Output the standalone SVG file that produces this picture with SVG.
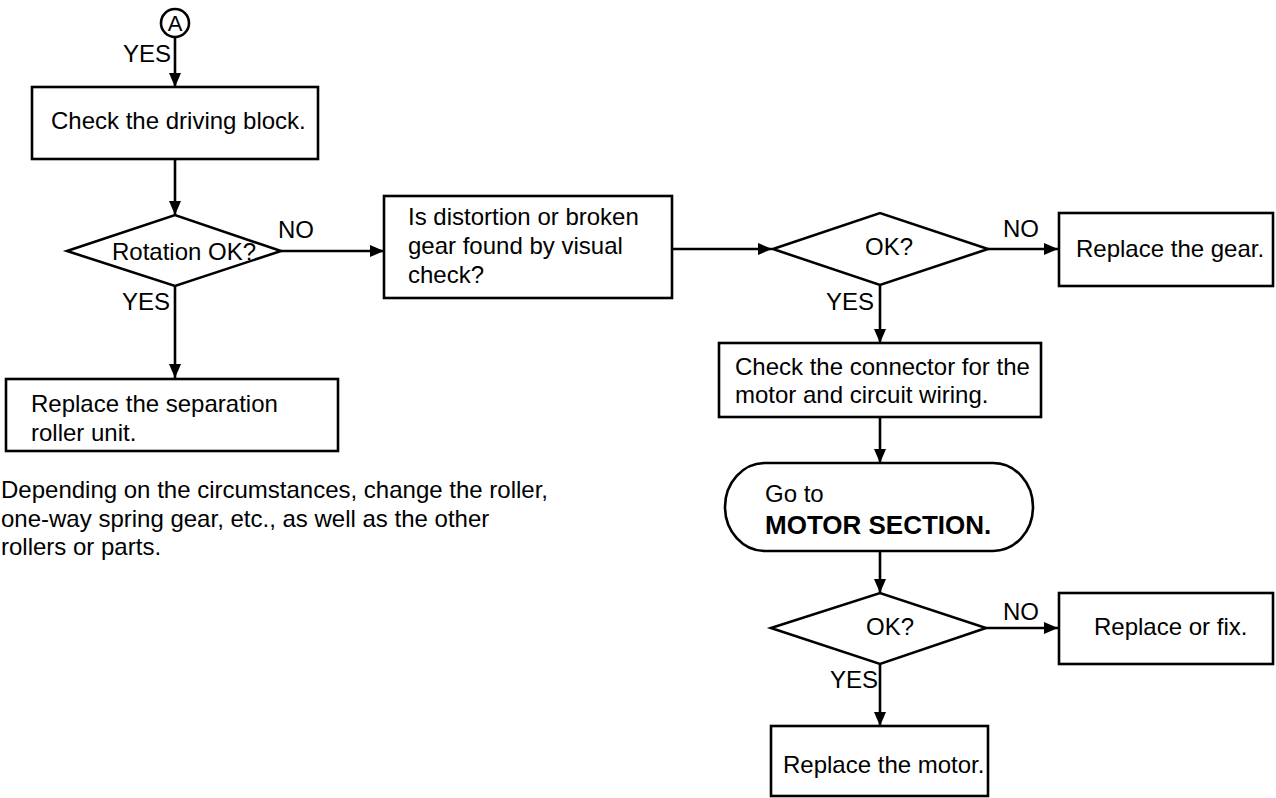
<svg xmlns="http://www.w3.org/2000/svg" width="1276" height="798" viewBox="0 0 1276 798">
<style>
  .shape { fill: #fff; stroke: #000; stroke-width: 2.6; }
  .conn { fill: none; stroke: #000; stroke-width: 2.6; }
  text { font-family: "Liberation Sans", Arial, sans-serif; font-size: 24px; fill: #000; }
  .bold { font-weight: bold; font-size: 26px; }
</style>
<defs>
  <marker id="arrow" markerUnits="userSpaceOnUse" markerWidth="14" markerHeight="12" refX="14" refY="6" orient="auto">
    <path d="M0,0 L14,6 L0,12 z" fill="#000"/>
  </marker>
</defs>
<rect x="0" y="0" width="1276" height="798" fill="#fff"/>

<g id="connectors">
  <line class="conn" x1="175" y1="37" x2="175" y2="87" marker-end="url(#arrow)"/>
  <line class="conn" x1="175" y1="159" x2="175" y2="215" marker-end="url(#arrow)"/>
  <line class="conn" x1="281" y1="251" x2="384" y2="251" marker-end="url(#arrow)"/>
  <line class="conn" x1="175" y1="286" x2="175" y2="378" marker-end="url(#arrow)"/>
  <line class="conn" x1="672" y1="249" x2="772" y2="249" marker-end="url(#arrow)"/>
  <line class="conn" x1="988" y1="249" x2="1058" y2="249" marker-end="url(#arrow)"/>
  <line class="conn" x1="880" y1="285" x2="880" y2="343" marker-end="url(#arrow)"/>
  <line class="conn" x1="880" y1="417" x2="880" y2="463" marker-end="url(#arrow)"/>
  <line class="conn" x1="880" y1="551" x2="880" y2="593" marker-end="url(#arrow)"/>
  <line class="conn" x1="986" y1="628" x2="1058" y2="628" marker-end="url(#arrow)"/>
  <line class="conn" x1="880" y1="664" x2="880" y2="726" marker-end="url(#arrow)"/>
  <text x="123" y="62">YES</text>
  <text x="278" y="238">NO</text>
  <text x="122" y="310">YES</text>
  <text x="1003" y="237">NO</text>
  <text x="826" y="310">YES</text>
  <text x="1003" y="620">NO</text>
  <text x="830" y="688">YES</text>
</g>

<g id="start-a">
  <circle class="shape" cx="175" cy="23" r="14" stroke-width="2.2"/>
  <text x="175" y="31" text-anchor="middle" style="font-size:22px">A</text>
</g>

<g id="check-driving">
  <rect class="shape" x="32" y="87" width="286" height="72"/>
  <text x="51" y="129">Check the driving block.</text>
</g>

<g id="rotation-ok">
  <polygon class="shape" points="67,251 175,215 281,251 175,286"/>
  <text x="112" y="260">Rotation OK?</text>
</g>

<g id="replace-separation">
  <rect class="shape" x="6" y="379" width="332" height="72"/>
  <text x="31" y="412">Replace the separation</text>
  <text x="31" y="441">roller unit.</text>
</g>

<g id="note">
  <text x="1" y="498">Depending on the circumstances, change the roller,</text>
  <text x="1" y="527">one-way spring gear, etc., as well as the other</text>
  <text x="1" y="555">rollers or parts.</text>
</g>

<g id="distortion-check">
  <rect class="shape" x="384" y="196" width="288" height="102"/>
  <text x="408" y="225">Is distortion or broken</text>
  <text x="408" y="254">gear found by visual</text>
  <text x="408" y="283">check?</text>
</g>

<g id="ok-1">
  <polygon class="shape" points="773,249 880,213 988,249 880,285"/>
  <text x="865" y="255">OK?</text>
</g>

<g id="replace-gear">
  <rect class="shape" x="1059" y="213" width="214" height="73"/>
  <text x="1076" y="257">Replace the gear.</text>
</g>

<g id="check-connector">
  <rect class="shape" x="719" y="343" width="322" height="74"/>
  <text x="735" y="375">Check the connector for the</text>
  <text x="735" y="403">motor and circuit wiring.</text>
</g>

<g id="motor-section">
  <rect class="shape" x="725" y="463" width="308" height="88" rx="40" ry="44"/>
  <text x="765" y="502">Go to</text>
  <text x="765" y="534" class="bold">MOTOR SECTION.</text>
</g>

<g id="ok-2">
  <polygon class="shape" points="771,628 880,593 986,628 880,664"/>
  <text x="866" y="635">OK?</text>
</g>

<g id="replace-fix">
  <rect class="shape" x="1059" y="593" width="214" height="71"/>
  <text x="1094" y="635">Replace or fix.</text>
</g>

<g id="replace-motor">
  <rect class="shape" x="771" y="726" width="217" height="70"/>
  <text x="783" y="773">Replace the motor.</text>
</g>
</svg>
